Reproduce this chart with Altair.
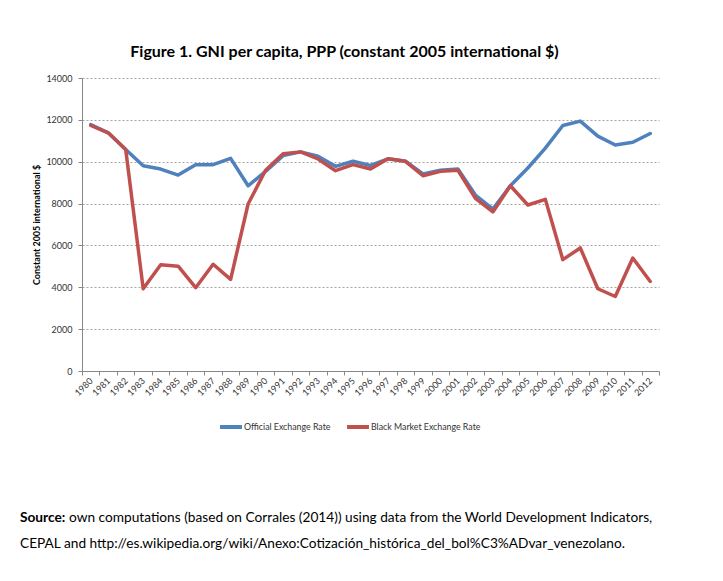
import altair as alt
import pandas as pd

years = ["1980", "1981", "1982", "1983", "1984", "1985", "1986", "1987", "1988", "1989",
         "1990", "1991", "1992", "1993", "1994", "1995", "1996", "1997", "1998", "1999",
         "2000", "2001", "2002", "2003", "2004", "2005", "2006", "2007", "2008", "2009",
         "2010", "2011", "2012"]
official = [11780, 11380, 10580, 9810, 9650, 9360, 9860, 9860, 10160, 8850,
            9540, 10290, 10470, 10260, 9780, 10020, 9820, 10140, 10020, 9420,
            9590, 9650, 8410, 7740, 8850, 9700, 10650, 11730, 11940, 11220,
            10800, 10930, 11350]
black = [11730, 11380, 10580, 3930, 5080, 5010, 3980, 5100, 4380, 7980,
         9590, 10380, 10470, 10130, 9570, 9860, 9650, 10140, 10020, 9330,
         9540, 9590, 8250, 7600, 8850, 7930, 8200, 5320, 5880, 3930,
         3560, 5400, 4280]
series_names = ["Official Exchange Rate", "Black Market Exchange Rate"]
series_colors = ["#4F81BD", "#C0504D"]
y_ticks = [0, 2000, 4000, 6000, 8000, 10000, 12000, 14000]

title_text = "Figure 1. GNI per capita, PPP (constant 2005 international $)"
y_title = "Constant 2005 international $"
src_bold = "Source:"
src_line1 = "own computations (based on Corrales (2014))  using data from the World Development Indicators,"
src_line2 = "CEPAL and http://es.wikipedia.org/wiki/Anexo:Cotización_histórica_del_bol%C3%ADvar_venezolano."

rows = []
for i, y in enumerate(years):
    rows.append({"year": y, "series": series_names[0], "value": official[i], "order": 0})
    rows.append({"year": y, "series": series_names[1], "value": black[i], "order": 1})
df = pd.DataFrame(rows)

FONT = "Lato"

lines = alt.Chart(df).mark_line(strokeWidth=3.5, strokeCap="round", strokeJoin="round").encode(
    x=alt.X("year:N", sort=years,
            scale=alt.Scale(type="band", paddingInner=0, paddingOuter=0),
            axis=alt.Axis(title=None, labelAngle=-45, labelAlign="right", labelBaseline="middle",
                          labelFontSize=9, labelFont=FONT, labelColor="#333333",
                          tickBand="extent", tickSize=4, tickColor="#888888",
                          domainColor="#888888", grid=False, labelPadding=4)),
    y=alt.Y("value:Q",
            scale=alt.Scale(domain=[0, 14000], nice=False),
            axis=alt.Axis(values=y_ticks, format="d", title=y_title, titleFont=FONT, titleFontSize=9,
                          titleFontWeight="bold", titleColor="#000000", titlePadding=4,
                          labelFont=FONT, labelFontSize=9, labelColor="#333333",
                          tickSize=4, tickColor="#888888", domainColor="#888888",
                          grid=True, gridColor="#a6a6a6", gridDash=[2, 2], gridWidth=1,
                          labelPadding=6)),
    color=alt.Color("series:N",
                    scale=alt.Scale(domain=series_names, range=series_colors),
                    legend=alt.Legend(title=None, orient="none", legendX=136, legendY=336,
                                      direction="horizontal", symbolType="stroke",
                                      symbolStrokeWidth=4, symbolSize=480,
                                      labelFont=FONT, labelFontSize=8.8, labelColor="#333333",
                                      columnPadding=8, labelOffset=0)),
    order="order:Q",
)

src_df = pd.DataFrame({"t": [0]})
src_b = alt.Chart(src_df).mark_text(text=src_bold, font=FONT, fontSize=13.7, fontWeight="bold",
                                     align="left", baseline="alphabetic", color="#000000").encode(
    x=alt.value(-62), y=alt.value(444))
src_1 = alt.Chart(src_df).mark_text(text=src_line1, font=FONT, fontSize=13.7,
                                     align="left", baseline="alphabetic", color="#000000").encode(
    x=alt.value(-13), y=alt.value(444))
src_2 = alt.Chart(src_df).mark_text(text=src_line2, font=FONT, fontSize=13.7,
                                     align="left", baseline="alphabetic", color="#000000").encode(
    x=alt.value(-62), y=alt.value(470))

chart = alt.layer(lines, src_b, src_1, src_2).properties(
    width=577, height=293,
    title=alt.TitleParams(title_text, font=FONT, fontSize=16, fontWeight="bold", color="#000000",
                          anchor="middle", dx=-26, offset=14),
    autosize=alt.AutoSizeParams(type="none"),
    padding={"left": 74, "top": 70, "right": 56, "bottom": 190},
).configure_view(stroke=None)

chart.save("out.html", embed_options={"renderer": "svg", "actions": False})
